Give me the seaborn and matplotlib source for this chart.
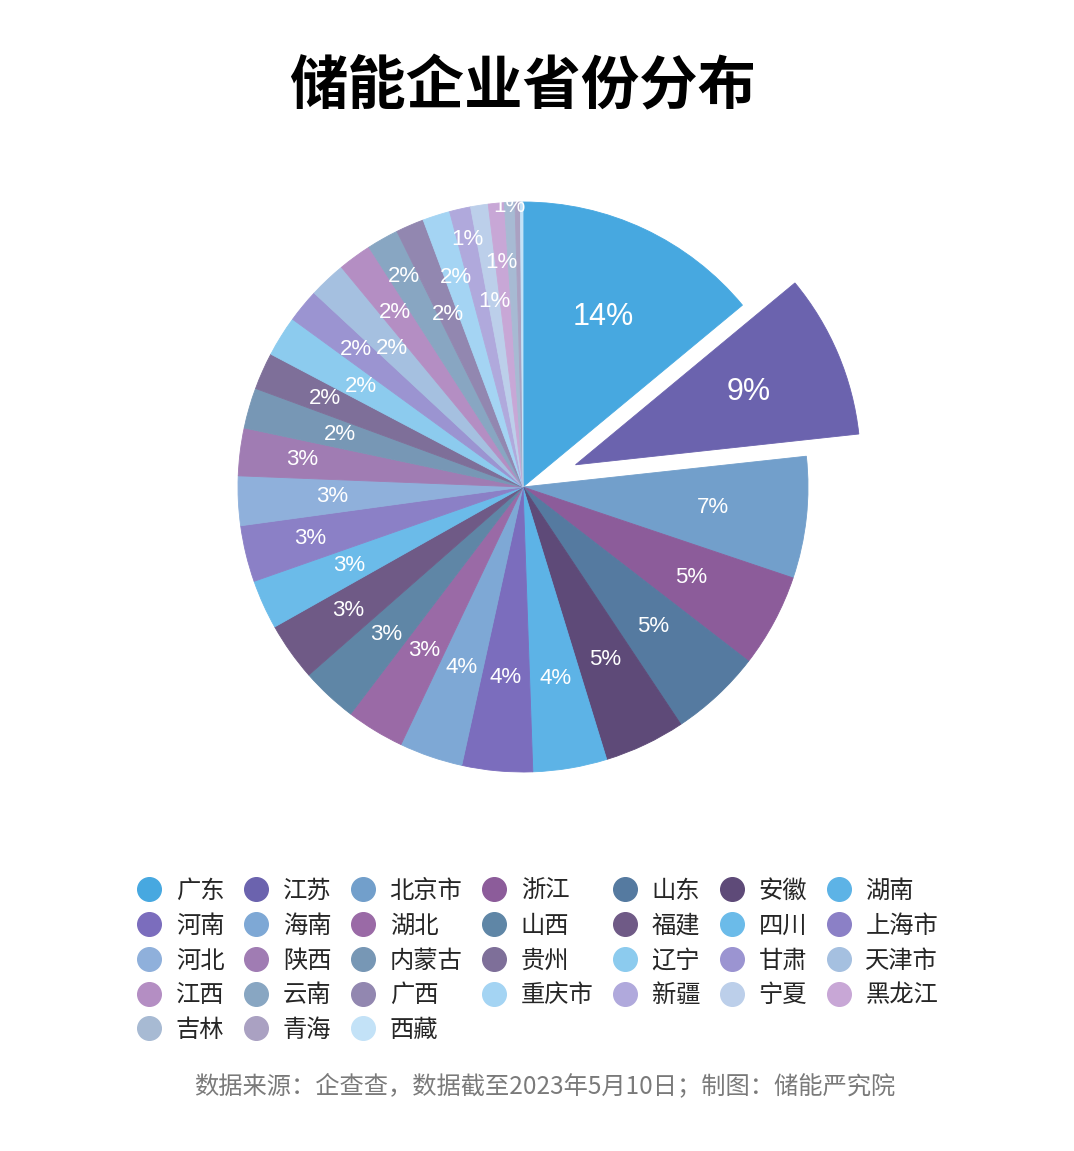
import matplotlib
matplotlib.use("Agg")
import matplotlib.pyplot as plt
from matplotlib.lines import Line2D
import seaborn as sns
import numpy as np

sns.set_theme(style="white")
plt.rcParams['font.family'] = ['Noto Sans CJK SC', 'DejaVu Sans']

# ---------------- data ----------------
provinces = ["广东", "江苏", "北京市", "浙江", "山东", "安徽", "湖南",
             "河南", "海南", "湖北", "山西", "福建", "四川", "上海市",
             "河北", "陕西", "内蒙古", "贵州", "辽宁", "甘肃", "天津市",
             "江西", "云南", "广西", "重庆市", "新疆", "宁夏", "黑龙江",
             "吉林", "青海", "西藏"]
shares = [14.0, 9.3, 6.9, 5.3, 5.2, 4.6, 4.2,
          4.0, 3.6, 3.3, 3.2, 3.3, 2.8, 3.2,
          2.8, 2.7, 2.3, 2.1, 2.3, 1.9, 2.1,
          1.9, 1.8, 1.6, 1.55, 1.2, 1.0, 0.9,
          0.6, 0.3, 0.15]
colors = ["#47a8e0", "#6b63ae", "#729fcb", "#8c5c9a", "#557aa0", "#5e4a78", "#5db3e6",
          "#7b6dbd", "#7ea8d5", "#9a6aa6", "#5f86a6", "#6f5a86", "#6bbbe9", "#8b80c6",
          "#8fb0db", "#a07cb3", "#7797b5", "#7e6f99", "#8ccbee", "#9b94d1", "#a5c0e0",
          "#b48ec3", "#88a6c2", "#9287b0", "#a4d4f3", "#b0a9dc", "#bccfea", "#c8a7d6",
          "#a7bad3", "#aaa1c2", "#c3e2f7"]
title = "储能企业省份分布"
source = "数据来源：企查查，数据截至2023年5月10日；制图：储能严究院"

# ---------------- layout (style only) ----------------
explode = [0.0] * len(shares)
explode[1] = 0.2
label_r = [0.66, 0.66, 0.67, 0.67, 0.67, 0.67, 0.68,
           0.67, 0.67, 0.67, 0.705, 0.75, 0.67, 0.77,
           0.67, 0.78, 0.67, 0.76, 0.67, 0.76, 0.67,
           0.76, 0.85, 0.66, 0.77, 0.89, 0.66, 0.79,
           0.985, 0, 0]

W, H = 1074, 1151
fig = plt.figure(figsize=(W / 100, H / 100), dpi=100)
fig.patch.set_facecolor("white")

R = 285.0
cx, cy = 523.0, 487.0
half = 1.3 * R
ax = fig.add_axes([(cx - half) / W, (H - cy - half) / H, 2 * half / W, 2 * half / H])

wedges, _ = ax.pie(shares, colors=colors, startangle=90, counterclock=False,
                   explode=explode, radius=1.0,
                   wedgeprops=dict(linewidth=0.6))
for w, c in zip(wedges, colors):
    w.set_edgecolor(c)
    w.set_clip_on(False)

ax.set_xlim(-1.3, 1.3)
ax.set_ylim(-1.3, 1.3)
ax.set_aspect("equal")
ax.axis("off")

total = float(np.sum(shares))
for i, (w, v) in enumerate(zip(wedges, shares)):
    pct = v / total * 100
    if label_r[i] == 0:
        continue
    mid = np.deg2rad((w.theta1 + w.theta2) / 2)
    x0, y0 = w.center
    r = label_r[i]
    fs = 22 if i < 2 else 16
    ax.text(x0 + r * np.cos(mid), y0 + r * np.sin(mid), f"{pct:.0f}%",
            ha="center", va="center", color="white", fontsize=fs,
            family=["Liberation Sans", "DejaVu Sans"], clip_on=False)

# title
fig.text(522.5 / W, 1 - 87 / H, title, ha="center", va="center",
         fontsize=42, fontweight="bold", color="black")

# legend, row-major order laid out column-major as matplotlib fills
ncol = 7
n = len(provinces)
order = []
for col in range(ncol):
    for row in range(5):
        idx = row * ncol + col
        if idx < n:
            order.append(idx)
handles = [Line2D([0], [0], marker="o", linestyle="", markersize=17,
                  markerfacecolor=colors[i], markeredgecolor=colors[i])
           for i in order]
labels = [provinces[i] for i in order]
fig.legend(handles, labels, loc="upper left",
           bbox_to_anchor=(137 / W, 1 - 878 / H), ncol=ncol, frameon=False,
           fontsize=17.5, handlelength=1.0, handletextpad=0.6,
           columnspacing=0.8, labelspacing=0.36, borderpad=0, borderaxespad=0)

# footnote
fig.text(545 / W, 1 - 1086 / H, source, ha="center", va="center",
         fontsize=17.5, color="#7a7a7a")

fig.savefig("out.png", dpi=100, facecolor="white")
